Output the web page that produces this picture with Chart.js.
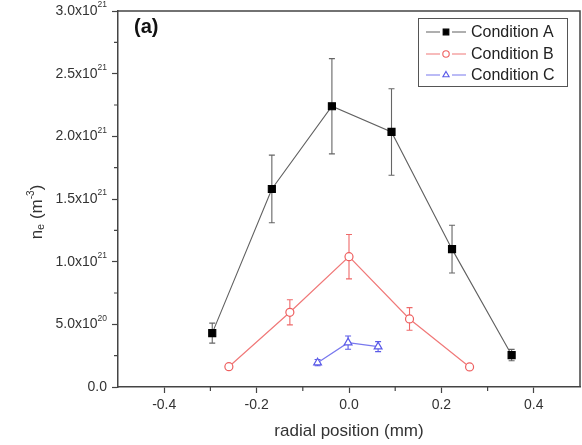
<!DOCTYPE html>
<html><head><meta charset="utf-8">
<script src="https://cdn.jsdelivr.net/npm/chart.js@4"></script>
<style>html,body{margin:0;background:#fff;overflow:hidden}#wrap{width:582px;height:445px;position:relative}</style>
</head><body><div id="wrap"><canvas id="c"></canvas></div>
<script>
// electron density vs radial position
const seriesNames = ['Condition A', 'Condition B', 'Condition C'];
const posA = [-0.296, -0.167, -0.037, 0.092, 0.223, 0.352];
const neA  = [0.43e21, 1.58e21, 2.24e21, 2.035e21, 1.10e21, 0.255e21];
const errA = [0.08e21, 0.27e21, 0.38e21, 0.345e21, 0.19e21, 0.045e21];
const posB = [-0.26, -0.128, 0.0, 0.131, 0.261];
const neB  = [0.162e21, 0.596e21, 1.04e21, 0.543e21, 0.16e21];
const errB = [0.02e21, 0.1e21, 0.177e21, 0.09e21, 0.02e21];
const posC = [-0.068, -0.002, 0.063];
const neC  = [0.194e21, 0.354e21, 0.322e21];
const errC = [0.025e21, 0.053e21, 0.04e21];
const xTicks = [-0.4, -0.2, 0, 0.2, 0.4];
const xTickLabels = ['-0.4', '-0.2', '0.0', '0.2', '0.4'];
const xMinor = [-0.3, -0.1, 0.1, 0.3];
const yTicks = [0, 0.5e21, 1.0e21, 1.5e21, 2.0e21, 2.5e21, 3.0e21];
const yTickBase = ['0.0', '5.0x10', '1.0x10', '1.5x10', '2.0x10', '2.5x10', '3.0x10'];
const yTickExp  = ['', '20', '21', '21', '21', '21', '21'];
const yMinor = [0.25e21, 0.75e21, 1.25e21, 1.75e21, 2.25e21, 2.75e21];

const FONT = '"Liberation Sans", Arial, sans-serif';
const AXIS = '#444';
const TXT = '#333';

function pts(xs, ys){ return xs.map((x,i)=>({x, y:ys[i]})); }

const sets = [
  { label:seriesNames[0], data:pts(posA,neA), err:errA, borderColor:'#606060', borderWidth:1.1,
    pointStyle:'rect', pointRadius:5, pointBackgroundColor:'#000', pointBorderColor:'#000', errColor:'#666' },
  { label:seriesNames[1], data:pts(posB,neB), err:errB, borderColor:'#f07878', borderWidth:1.2,
    pointStyle:'circle', pointRadius:4, pointBackgroundColor:'#fff', pointBorderColor:'#ee5f5f', pointBorderWidth:1.2, errColor:'#ee6a6a' },
  { label:seriesNames[2], data:pts(posC,neC), err:errC, borderColor:'#7878ee', borderWidth:1.2,
    pointStyle:'triangle', pointRadius:4.5, pointBackgroundColor:'#fff', pointBorderColor:'#5a5ae8', pointBorderWidth:1.2, errColor:'#5a5ae8' }
];

const extras = {
  id:'extras',
  beforeDatasetsDraw(chart){
    const {ctx, scales:{x, y}} = chart;
    ctx.save();
    chart.data.datasets.forEach(ds=>{
      ctx.strokeStyle = ds.errColor; ctx.lineWidth = 1.1;
      ds.data.forEach((p,i)=>{
        const px = x.getPixelForValue(p.x);
        const t = y.getPixelForValue(p.y + ds.err[i]);
        const b = y.getPixelForValue(p.y - ds.err[i]);
        ctx.beginPath();
        ctx.moveTo(px, t); ctx.lineTo(px, b);
        ctx.moveTo(px-3, t); ctx.lineTo(px+3, t);
        ctx.moveTo(px-3, b); ctx.lineTo(px+3, b);
        ctx.stroke();
      });
    });
    ctx.restore();
  },
  afterDraw(chart){
    const {ctx, chartArea:a, scales:{x, y}} = chart;
    ctx.save();
    // frame top/right
    ctx.strokeStyle = AXIS; ctx.lineWidth = 1.5;
    ctx.beginPath();
    ctx.moveTo(a.left, a.top); ctx.lineTo(a.right, a.top); ctx.lineTo(a.right, a.bottom);
    ctx.stroke();
    // minor ticks
    ctx.lineWidth = 1.2;
    ctx.beginPath();
    xMinor.forEach(v=>{ const px = x.getPixelForValue(v); ctx.moveTo(px, a.bottom); ctx.lineTo(px, a.bottom+4); });
    yMinor.forEach(v=>{ const py = y.getPixelForValue(v); ctx.moveTo(a.left, py); ctx.lineTo(a.left-4, py); });
    ctx.stroke();
    // y tick labels with superscripts
    ctx.fillStyle = TXT; ctx.textBaseline = 'middle';
    yTicks.forEach((v,i)=>{
      const py = y.getPixelForValue(v);
      const right = a.left - 11;
      ctx.font = '8.5px ' + FONT;
      const ew = yTickExp[i] ? ctx.measureText(yTickExp[i]).width : 0;
      ctx.textAlign = 'right';
      if (yTickExp[i]) ctx.fillText(yTickExp[i], right, py - 6);
      ctx.font = '14px ' + FONT;
      ctx.fillText(yTickBase[i], right - ew, py);
    });
    // y title: n_e (m^-3)
    ctx.translate(37, 212); ctx.rotate(-Math.PI/2);
    const parts = [['n',17,0],['e',11,4],[' (m',17,0],['-3',10,-6],[')',17,0]];
    let w = 0;
    parts.forEach(p=>{ ctx.font = p[1]+'px '+FONT; w += ctx.measureText(p[0]).width; });
    let cx = -w/2; ctx.textAlign = 'left';
    parts.forEach(p=>{ ctx.font = p[1]+'px '+FONT; ctx.fillText(p[0], cx, p[2]); cx += ctx.measureText(p[0]).width; });
    ctx.setTransform(1,0,0,1,0,0);
    // panel label
    ctx.font = 'bold 20px ' + FONT; ctx.fillStyle = '#111'; ctx.textAlign = 'left';
    ctx.fillText('(a)', 134, 27);
    // legend
    ctx.strokeStyle = '#555'; ctx.lineWidth = 1;
    ctx.strokeRect(418.5, 18.5, 149, 68);
    const rows = [32, 54, 75];
    chart.data.datasets.forEach((ds,i)=>{
      const ry = rows[i];
      ctx.strokeStyle = ds.borderColor; ctx.lineWidth = 1.2;
      ctx.beginPath();
      ctx.moveTo(426, ry); ctx.lineTo(440, ry);
      ctx.moveTo(452, ry); ctx.lineTo(466, ry);
      ctx.stroke();
      ctx.fillStyle = ds.pointBackgroundColor; ctx.strokeStyle = ds.pointBorderColor; ctx.lineWidth = 1.1;
      Chart.helpers.drawPoint(ctx, {pointStyle:ds.pointStyle, radius:ds.pointRadius*0.8, borderWidth:1.1}, 446, ry);
      ctx.fillStyle = '#222'; ctx.font = '16px ' + FONT; ctx.textAlign = 'left';
      ctx.fillText(ds.label, 471, ry + 1);
    });
    ctx.restore();
  }
};

new Chart(document.getElementById('c'), {
  type:'line',
  data:{ datasets: sets },
  plugins:[extras],
  options:{
    responsive:true, maintainAspectRatio:false, animation:false,
    layout:{ autoPadding:false, padding:{ top:11, right:2, left:0, bottom:0 } },
    plugins:{ legend:{ display:false }, tooltip:{ enabled:false } },
    elements:{ line:{ tension:0 } },
    scales:{
      x:{
        type:'linear', min:-0.5, max:0.5,
        afterBuildTicks:s=>{ s.ticks = xTicks.map(v=>({value:v})); },
        afterFit:s=>{ s.height = 58; s.paddingLeft = 0; s.paddingRight = 0; },
        ticks:{ callback:(v)=>xTickLabels[xTicks.indexOf(v)] ?? '', font:{ family:FONT, size:14 }, color:TXT, padding:4, maxRotation:0 },
        grid:{ drawOnChartArea:false, tickLength:6, color:AXIS, tickWidth:1.2 },
        border:{ color:AXIS, width:1.5 },
        title:{ display:true, text:'radial position (mm)', font:{ family:FONT, size:17 }, color:TXT, padding:{ top:4, bottom:3 } }
      },
      y:{
        type:'linear', min:0, max:3e21,
        afterBuildTicks:s=>{ s.ticks = yTicks.map(v=>({value:v})); },
        afterFit:s=>{ s.width = 118; s.paddingTop = 0; s.paddingBottom = 0; },
        ticks:{ display:false },
        grid:{ drawOnChartArea:false, tickLength:6, color:AXIS, tickWidth:1.2 },
        border:{ color:AXIS, width:1.5 }
      }
    }
  }
});
</script></body></html>
